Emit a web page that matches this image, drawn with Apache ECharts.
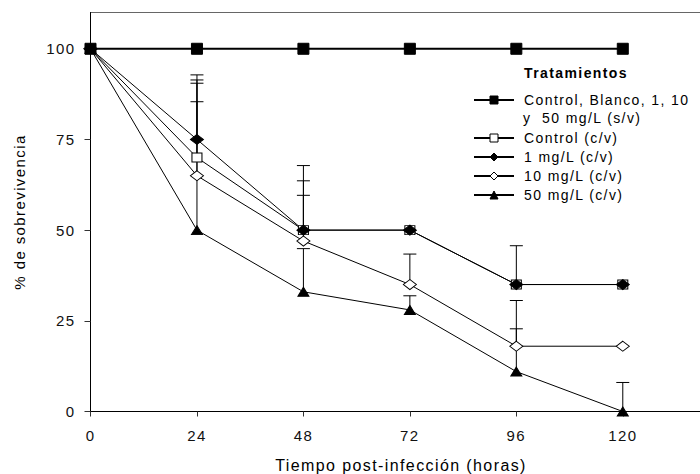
<!DOCTYPE html>
<html><head><meta charset="utf-8">
<script src="https://cdn.jsdelivr.net/npm/echarts@6/dist/echarts.min.js"></script>
<style>
html,body{margin:0;padding:0;background:#fff;}
#chart{width:700px;height:474px;overflow:hidden;}
#chart text{letter-spacing:1.4px;}
</style></head><body><div id="chart"></div>
<script>
const times = [0, 24, 48, 72, 96, 120];
const xTicks = [0, 24, 48, 72, 96, 120];
const yTicks = [0, 25, 50, 75, 100];
const seriesNames = ['Control, Blanco, 1, 10', 'Control (c/v)', '1 mg/L (c/v)', '10 mg/L (c/v)', '50 mg/L (c/v)'];
const legendSecondLine = 'y  50 mg/L (s/v)';
const legendTitle = 'Tratamientos';
const xTitle = 'Tiempo post-infección (horas)';
const yTitle = '% de sobrevivencia';

const sinVirus = [100, 100, 100, 100, 100, 100];
const controlCV = [100, 70, 50, 50, 35, 35];
const mg1CV = [100, 75, 50, 50, 35, 35];
const mg10CV = [100, 65, 47, 35, 18, 18];
const mg50CV = [100, 50, 33, 28, 11, 0];

const errControlCV = [null, 20.5, 13.6, null, null, null];
const errMg1CV = [null, 17.8, 17.8, null, 10.7, null];
const errMg10CV = [null, 26.4, 12.6, 8.4, 12.6, null];
const errMg50CV = [null, 35.4, 11.9, 3.9, 11.8, 8.0];

const FONT = '"Liberation Sans", Arial, sans-serif';

function pts(arr) { return times.map((t, i) => [t, arr[i]]); }
function errPts(vals, errs) {
  return times.map((t, i) => errs[i] == null ? null : [t, vals[i], errs[i]]).filter(Boolean);
}
function renderErr(params, api) {
  const x = api.value(0), y = api.value(1), e = api.value(2);
  const p0 = api.coord([x, y]);
  const p1 = api.coord([x, y + e]);
  const st = { stroke: '#000', lineWidth: 1 };
  return {
    type: 'group',
    children: [
      { type: 'line', shape: { x1: p0[0], y1: p0[1], x2: p1[0], y2: p1[1] }, style: st },
      { type: 'line', shape: { x1: p1[0] - 6.5, y1: p1[1], x2: p1[0] + 6.5, y2: p1[1] }, style: st }
    ]
  };
}
function errSeries(vals, errs) {
  return {
    type: 'custom', renderItem: renderErr, data: errPts(vals, errs), z: 2, silent: true,
    encode: { x: 0, y: 1 }, clip: false
  };
}
const openItem = { color: '#fff', borderColor: '#000', borderWidth: 1 };
const filledItem = { color: '#000', borderColor: '#000', borderWidth: 1 };
const legendText = { fontSize: 14, color: '#000', fontFamily: FONT, padding: [0, 0, 0, 5] };

const chart = echarts.init(document.getElementById('chart'), null, { renderer: 'svg' });
chart.setOption({
  animation: false,
  textStyle: { fontFamily: FONT, color: '#000' },
  grid: { left: 90.5, top: 12.5, width: 621, height: 399, show: true, borderColor: '#666', borderWidth: 1,
          containLabel: false, outerBoundsMode: 'none' },
  xAxis: {
    type: 'value', min: 0, max: 140, interval: 24,
    name: xTitle, nameLocation: 'middle', nameGap: 46,
    nameTextStyle: { fontSize: 16, color: '#000', fontFamily: FONT },
    axisLine: { lineStyle: { color: '#000', width: 1 } },
    axisTick: { show: true, length: 5, lineStyle: { color: '#333' }, customValues: xTicks },
    axisLabel: { fontSize: 15, color: '#111', margin: 16, fontFamily: FONT, customValues: xTicks },
    splitLine: { show: false }
  },
  yAxis: {
    type: 'value', min: 0, max: 110, interval: 25,
    name: yTitle, nameLocation: 'middle', nameGap: 64,
    nameTextStyle: { fontSize: 15, color: '#000', fontFamily: FONT },
    axisLine: { show: true, lineStyle: { color: '#000', width: 1 } },
    axisTick: { show: true, length: 6, lineStyle: { color: '#333' }, customValues: yTicks },
    axisLabel: { fontSize: 15, color: '#111', margin: 15, fontFamily: FONT, customValues: yTicks },
    splitLine: { show: false }
  },
  legend: [
    {
      data: [seriesNames[0]], left: 473, top: 93, orient: 'vertical', padding: 0,
      itemWidth: 40, itemHeight: 10, selectedMode: false,
      itemStyle: { borderWidth: 1 }, textStyle: legendText
    },
    {
      data: seriesNames.slice(1), left: 473, top: 131, orient: 'vertical', padding: 0,
      itemWidth: 40, itemHeight: 10, itemGap: 5, selectedMode: false,
      itemStyle: { borderWidth: 1 }, textStyle: legendText
    }
  ],
  graphic: [
    { type: 'text', x: 576, y: 73, silent: true,
      style: { text: legendTitle, align: 'center', verticalAlign: 'middle', fontSize: 14, fontWeight: 'bold', fontFamily: FONT, fill: '#000' } },
    { type: 'text', x: 523, y: 118, silent: true,
      style: { text: legendSecondLine, align: 'left', verticalAlign: 'middle', fontSize: 14, fontFamily: FONT, fill: '#000' } }
  ],
  series: [
    errSeries(controlCV, errControlCV),
    errSeries(mg1CV, errMg1CV),
    errSeries(mg10CV, errMg10CV),
    errSeries(mg50CV, errMg50CV),
    { name: seriesNames[1], type: 'line', data: pts(controlCV), symbol: 'rect', symbolSize: [10, 9], z: 3, clip: false,
      lineStyle: { color: '#000', width: 1 }, itemStyle: openItem },
    { name: seriesNames[2], type: 'line', data: pts(mg1CV), symbol: 'diamond', symbolSize: [13, 10], z: 3, clip: false,
      lineStyle: { color: '#000', width: 1 }, itemStyle: filledItem },
    { name: seriesNames[3], type: 'line', data: pts(mg10CV), symbol: 'diamond', symbolSize: [13, 10], z: 3, clip: false,
      lineStyle: { color: '#000', width: 1 }, itemStyle: openItem },
    { name: seriesNames[4], type: 'line', data: pts(mg50CV), symbol: 'triangle', symbolSize: [11, 9], z: 3, clip: false,
      lineStyle: { color: '#000', width: 1 }, itemStyle: filledItem },
    { name: seriesNames[0], type: 'line', data: pts(sinVirus), symbol: 'rect', symbolSize: 11, z: 4, clip: false,
      lineStyle: { color: '#000', width: 2 }, itemStyle: filledItem }
  ]
});
</script></body></html>
